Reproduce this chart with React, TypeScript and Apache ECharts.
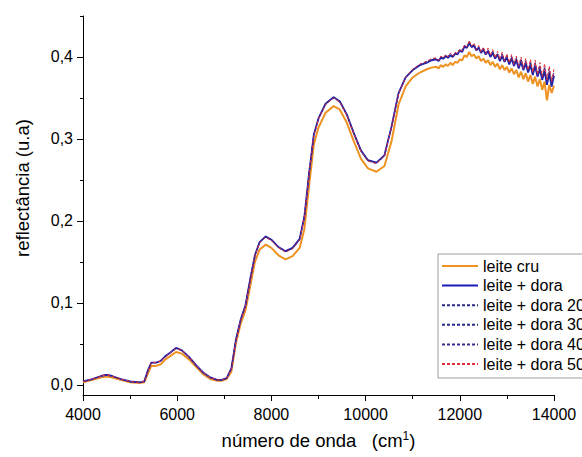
import { useEffect, useRef } from 'react'
import * as echarts from 'echarts'

// wavenumber grid (cm-1) shared by every spectrum; denser in the noisy tail
const waveNumbers = [
  4000, 4200, 4400, 4500, 4600, 4800, 5000, 5200, 5300, 5380,
  5450, 5550, 5650, 5750, 5850, 5975, 6100, 6250, 6400, 6550,
  6700, 6850, 6950, 7050, 7150, 7250, 7350, 7450, 7550, 7650,
  7750, 7880, 8000, 8150, 8300, 8450, 8600, 8700, 8800, 8900,
  9000, 9150, 9320, 9450, 9600, 9750, 9900, 10050, 10230, 10400,
  10550, 10700, 10850, 11000, 11150, 11300, 11400,
  11500, 11550, 11600, 11650, 11700, 11750, 11800, 11850, 11900, 11950,
  12000, 12050, 12100, 12150, 12200, 12250, 12300, 12350, 12400, 12450,
  12500, 12550, 12600, 12650, 12700, 12750, 12800, 12850, 12900, 12950,
  13000, 13050, 13100, 13150, 13200, 13250, 13300, 13350, 13400, 13450,
  13500, 13550, 13600, 13650, 13700, 13750, 13800, 13850, 13900, 13950,
  14000,
]

const leiteCru = [
  0.003, 0.006, 0.009, 0.010, 0.009, 0.006, 0.003, 0.002, 0.003, 0.014,
  0.023, 0.023, 0.025, 0.031, 0.035, 0.040, 0.038, 0.031, 0.022, 0.013,
  0.007, 0.005, 0.005, 0.007, 0.016, 0.052, 0.075, 0.091, 0.120, 0.150,
  0.165, 0.171, 0.167, 0.158, 0.153, 0.157, 0.167, 0.190, 0.243, 0.293,
  0.314, 0.332, 0.340, 0.336, 0.320, 0.297, 0.276, 0.264, 0.260, 0.267,
  0.297, 0.342, 0.364, 0.375, 0.381, 0.385, 0.387,
  0.388, 0.386, 0.390, 0.388, 0.391, 0.389, 0.393, 0.390, 0.394, 0.393,
  0.397, 0.396, 0.402, 0.400, 0.406, 0.401, 0.403, 0.398, 0.401, 0.395,
  0.398, 0.393, 0.396, 0.390, 0.394, 0.388, 0.392, 0.385, 0.390, 0.384,
  0.388, 0.381, 0.386, 0.379, 0.384, 0.375, 0.382, 0.373, 0.380, 0.370,
  0.378, 0.367, 0.376, 0.364, 0.373, 0.360, 0.370, 0.347, 0.366, 0.356,
  0.365,
]

const leiteDora = [
  0.004, 0.007, 0.011, 0.012, 0.011, 0.007, 0.004, 0.003, 0.004, 0.018,
  0.027, 0.027, 0.029, 0.035, 0.039, 0.045, 0.042, 0.034, 0.024, 0.015,
  0.009, 0.006, 0.006, 0.008, 0.020, 0.056, 0.080, 0.097, 0.129, 0.158,
  0.174, 0.181, 0.177, 0.168, 0.163, 0.167, 0.178, 0.205, 0.258, 0.305,
  0.325, 0.343, 0.351, 0.346, 0.330, 0.307, 0.286, 0.274, 0.271, 0.280,
  0.315, 0.356, 0.375, 0.384, 0.390, 0.393, 0.396,
  0.397, 0.395, 0.399, 0.398, 0.401, 0.399, 0.402, 0.400, 0.404, 0.403,
  0.408, 0.406, 0.413, 0.411, 0.417, 0.412, 0.414, 0.408, 0.411, 0.405,
  0.409, 0.403, 0.407, 0.400, 0.405, 0.398, 0.403, 0.395, 0.401, 0.394,
  0.399, 0.391, 0.398, 0.389, 0.396, 0.386, 0.394, 0.384, 0.392, 0.381,
  0.390, 0.378, 0.389, 0.376, 0.385, 0.372, 0.383, 0.366, 0.380, 0.364,
  0.377,
]

const leiteDora20 = [
  0.004, 0.007, 0.011, 0.012, 0.011, 0.007, 0.004, 0.003, 0.004, 0.018,
  0.027, 0.027, 0.029, 0.035, 0.039, 0.045, 0.042, 0.034, 0.024, 0.015,
  0.009, 0.006, 0.006, 0.008, 0.020, 0.056, 0.080, 0.097, 0.129, 0.158,
  0.174, 0.181, 0.177, 0.168, 0.163, 0.167, 0.178, 0.205, 0.258, 0.305,
  0.325, 0.343, 0.351, 0.346, 0.330, 0.307, 0.286, 0.274, 0.271, 0.280,
  0.315, 0.356, 0.375, 0.384, 0.390, 0.394, 0.397,
  0.398, 0.396, 0.400, 0.398, 0.402, 0.400, 0.403, 0.401, 0.405, 0.403,
  0.409, 0.407, 0.414, 0.411, 0.418, 0.412, 0.415, 0.409, 0.412, 0.405,
  0.410, 0.404, 0.408, 0.401, 0.406, 0.398, 0.404, 0.396, 0.403, 0.394,
  0.401, 0.392, 0.400, 0.390, 0.398, 0.387, 0.396, 0.385, 0.394, 0.382,
  0.393, 0.379, 0.391, 0.377, 0.388, 0.373, 0.386, 0.368, 0.383, 0.366,
  0.380,
]

const leiteDora30 = [
  0.004, 0.007, 0.011, 0.012, 0.011, 0.007, 0.004, 0.003, 0.004, 0.017,
  0.027, 0.027, 0.029, 0.035, 0.039, 0.045, 0.042, 0.034, 0.024, 0.015,
  0.009, 0.006, 0.006, 0.008, 0.020, 0.056, 0.080, 0.097, 0.129, 0.158,
  0.174, 0.181, 0.177, 0.168, 0.163, 0.167, 0.178, 0.205, 0.258, 0.305,
  0.325, 0.343, 0.351, 0.346, 0.330, 0.307, 0.286, 0.274, 0.271, 0.280,
  0.315, 0.356, 0.375, 0.384, 0.390, 0.393, 0.396,
  0.398, 0.395, 0.400, 0.397, 0.401, 0.400, 0.402, 0.401, 0.404, 0.404,
  0.408, 0.407, 0.413, 0.412, 0.416, 0.413, 0.414, 0.410, 0.411, 0.406,
  0.409, 0.405, 0.407, 0.402, 0.404, 0.399, 0.402, 0.397, 0.400, 0.395,
  0.399, 0.393, 0.397, 0.391, 0.395, 0.388, 0.393, 0.386, 0.391, 0.383,
  0.389, 0.381, 0.387, 0.378, 0.384, 0.375, 0.382, 0.370, 0.379, 0.368,
  0.378,
]

const leiteDora40 = [
  0.004, 0.007, 0.011, 0.012, 0.011, 0.007, 0.004, 0.003, 0.004, 0.017,
  0.027, 0.027, 0.029, 0.034, 0.039, 0.044, 0.042, 0.034, 0.024, 0.015,
  0.009, 0.006, 0.006, 0.008, 0.019, 0.055, 0.080, 0.096, 0.128, 0.157,
  0.174, 0.180, 0.176, 0.168, 0.162, 0.166, 0.177, 0.204, 0.257, 0.304,
  0.325, 0.342, 0.350, 0.345, 0.329, 0.306, 0.285, 0.273, 0.270, 0.279,
  0.314, 0.355, 0.375, 0.385, 0.391, 0.394, 0.397,
  0.398, 0.396, 0.401, 0.398, 0.402, 0.401, 0.404, 0.401, 0.405, 0.404,
  0.409, 0.408, 0.414, 0.412, 0.419, 0.413, 0.416, 0.409, 0.413, 0.406,
  0.411, 0.405, 0.409, 0.402, 0.407, 0.399, 0.405, 0.397, 0.404, 0.395,
  0.402, 0.393, 0.401, 0.391, 0.399, 0.388, 0.398, 0.386, 0.396, 0.383,
  0.395, 0.380, 0.393, 0.378, 0.390, 0.374, 0.388, 0.370, 0.386, 0.368,
  0.383,
]

const leiteDora50 = [
  0.004, 0.007, 0.011, 0.012, 0.011, 0.007, 0.004, 0.003, 0.004, 0.017,
  0.027, 0.027, 0.029, 0.034, 0.039, 0.044, 0.042, 0.034, 0.024, 0.015,
  0.009, 0.006, 0.006, 0.008, 0.019, 0.055, 0.079, 0.096, 0.128, 0.157,
  0.173, 0.180, 0.176, 0.167, 0.162, 0.166, 0.177, 0.204, 0.257, 0.304,
  0.324, 0.342, 0.350, 0.345, 0.329, 0.306, 0.285, 0.273, 0.270, 0.279,
  0.314, 0.355, 0.375, 0.385, 0.391, 0.395, 0.398,
  0.399, 0.396, 0.401, 0.399, 0.403, 0.400, 0.405, 0.401, 0.406, 0.404,
  0.410, 0.407, 0.415, 0.412, 0.420, 0.413, 0.417, 0.409, 0.414, 0.406,
  0.412, 0.404, 0.411, 0.402, 0.409, 0.399, 0.407, 0.397, 0.406, 0.395,
  0.404, 0.393, 0.403, 0.391, 0.401, 0.389, 0.400, 0.386, 0.398, 0.384,
  0.397, 0.381, 0.396, 0.379, 0.393, 0.376, 0.392, 0.372, 0.389, 0.370,
  0.386,
]

const yLabelValues = [0, 0.1, 0.2, 0.3, 0.4]
const yMinorValues = [0.05, 0.15, 0.25, 0.35, 0.45]

const spectra = [
  { name: 'leite cru', values: leiteCru, color: '#EE9222', width: 2, dash: 'solid' },
  { name: 'leite + dora', values: leiteDora, color: '#1C1CB8', width: 1.8, dash: 'solid' },
  { name: 'leite + dora 20', values: leiteDora20, color: '#2A2A8C', width: 1, dash: [3, 2] },
  { name: 'leite + dora 30', values: leiteDora30, color: '#2A2A8C', width: 1, dash: [3, 2] },
  { name: 'leite + dora 40', values: leiteDora40, color: '#3A2A90', width: 1, dash: [3, 2] },
  { name: 'leite + dora 50', values: leiteDora50, color: '#E0303C', width: 1, dash: [3, 2] },
]

const FONT = '"Liberation Sans", Arial, sans-serif'

export default function App() {
  const ref = useRef<HTMLDivElement>(null)

  useEffect(() => {
    if (!ref.current) return
    const chart = echarts.init(ref.current, undefined, { renderer: 'svg' })

    const option: echarts.EChartsOption = {
      animation: false,
      backgroundColor: '#fff',
      grid: { left: 83, right: 28, top: 16, bottom: 62 },
      legend: {
        orient: 'vertical',
        left: 438,
        top: 254,
        itemWidth: 36,
        itemHeight: 14,
        itemGap: 3.6,
        padding: [4, 40, 6, 3],
        borderColor: '#9a9a9a',
        borderWidth: 1,
        backgroundColor: '#fff',
        itemStyle: { opacity: 0 },
        textStyle: { fontSize: 16, color: '#000', fontFamily: FONT },
        data: spectra.map((s) => s.name),
      },
      xAxis: {
        type: 'value',
        min: 4000,
        max: 14000,
        interval: 2000,
        name: 'número de onda   (cm{sup|1})',
        nameLocation: 'middle',
        nameGap: 35,
        nameTextStyle: {
          fontSize: 18.5,
          color: '#000',
          fontFamily: FONT,
          rich: {
            sup: { fontSize: 12, color: '#000', fontFamily: FONT, verticalAlign: 'top', padding: [0, 0, 8, 0] },
          },
        },
        axisLine: { show: true, onZero: false, lineStyle: { color: '#000', width: 1 } },
        axisTick: { show: true, length: 6, lineStyle: { color: '#000' } },
        minorTick: { show: true, splitNumber: 2, length: 4, lineStyle: { color: '#000' } },
        axisLabel: {
          fontSize: 16,
          color: '#000',
          margin: 11,
          fontFamily: FONT,
          formatter: (v: number) => String(v),
        },
        splitLine: { show: false },
      },
      yAxis: [
        {
          type: 'value',
          min: -0.0125,
          max: 0.45,
          axisLine: { show: true, onZero: false, lineStyle: { color: '#000', width: 1 } },
          axisTick: { show: true, length: 6, customValues: yLabelValues, lineStyle: { color: '#000' } },
          axisLabel: {
            customValues: yLabelValues,
            fontSize: 16,
            color: '#000',
            margin: 10,
            fontFamily: FONT,
            formatter: (v: number) => v.toFixed(1).replace('.', ','),
          },
          splitLine: { show: false },
        },
        {
          type: 'value',
          position: 'left',
          min: -0.0125,
          max: 0.45,
          axisLine: { show: false },
          axisTick: { show: true, length: 3, customValues: yMinorValues, lineStyle: { color: '#000' } },
          axisLabel: { show: false },
          splitLine: { show: false },
        },
      ],
      graphic: [
        {
          type: 'text',
          x: 22,
          y: 188,
          rotation: Math.PI / 2,
          style: {
            text: 'reflectância (u.a)',
            fontSize: 18.5,
            fontFamily: FONT,
            fill: '#000',
            align: 'center',
            verticalAlign: 'middle',
          },
        },
      ],
      series: spectra.map((s) => ({
        type: 'line',
        name: s.name,
        yAxisIndex: 0,
        showSymbol: false,
        symbol: 'none',
        data: waveNumbers.map((x, i) => [x, s.values[i]]),
        lineStyle: { color: s.color, width: s.width, type: s.dash as any },
        itemStyle: { color: s.color },
      })),
    }

    chart.setOption(option)
    return () => chart.dispose()
  }, [])

  return (
    <div
      ref={ref}
      style={{ position: 'fixed', left: 0, top: 0, width: 582, height: 457, background: '#fff' }}
    />
  )
}
